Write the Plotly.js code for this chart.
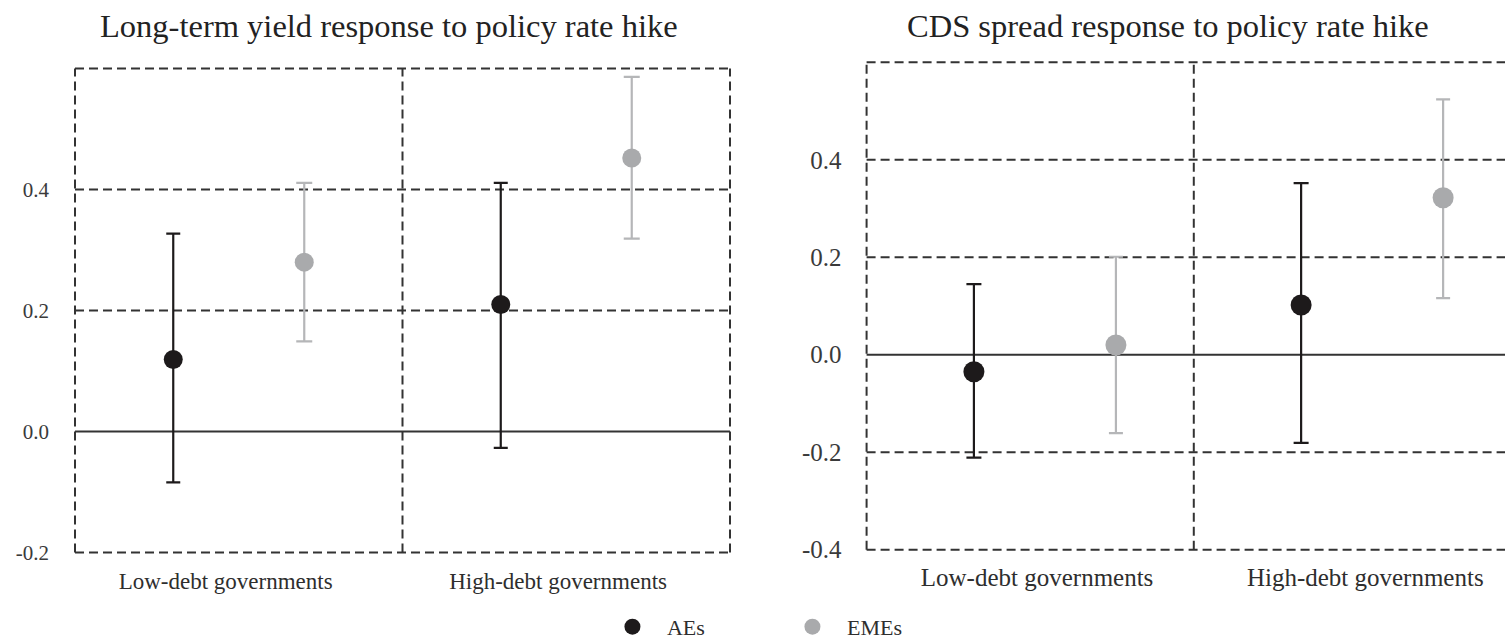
<!DOCTYPE html>
<html><head><meta charset="utf-8">
<script src="https://cdn.plot.ly/plotly-3.0.1.min.js"></script>
<style>html,body{margin:0;padding:0;background:#fff}#chart{width:1505px;height:641px}</style>
</head><body><div id="chart"></div>
<script>
// ---- data ----
const categories = ['Low-debt governments', 'High-debt governments'];
const seriesNames = ['AEs', 'EMEs'];
const panelTitles = ['Long-term yield response to policy rate hike', 'CDS spread response to policy rate hike'];

// Long-term yield response (left panel)
const yieldAEs = [0.119, 0.210];
const yieldAEsLow = [-0.084, -0.027];
const yieldAEsHigh = [0.327, 0.411];
const yieldEMEs = [0.280, 0.452];
const yieldEMEsLow = [0.149, 0.319];
const yieldEMEsHigh = [0.411, 0.586];

// CDS spread response (right panel)
const cdsAEs = [-0.035, 0.102];
const cdsAEsLow = [-0.211, -0.181];
const cdsAEsHigh = [0.145, 0.352];
const cdsEMEs = [0.020, 0.322];
const cdsEMEsLow = [-0.161, 0.116];
const cdsEMEsHigh = [0.201, 0.524];

const yTickValsYield = [-0.2, 0.0, 0.2, 0.4];
const yTickTextYield = ['-0.2', '0.0', '0.2', '0.4'];
const yTickValsCDS = [-0.4, -0.2, 0.0, 0.2, 0.4];
const yTickTextCDS = ['-0.4', '-0.2', '0.0', '0.2', '0.4'];

// ---- styling ----
const FONT = 'Liberation Serif, Times New Roman, serif';
const AE_COLOR = '#1d1a1b';
const EME_COLOR = '#a9aaac';
const EME_ERR = '#b5b6b8';
const GRID = '#333333';

function pointTrace(name, vals, lo, hi, offset, xa, ya, st, showlegend) {
  return {
    type: 'scatter', mode: 'markers', name: name, legendgroup: name, showlegend: showlegend,
    x: vals.map((_, i) => i + offset), y: vals, xaxis: xa, yaxis: ya,
    marker: {color: st.color, size: st.size},
    error_y: {type: 'data', symmetric: false,
      array: hi.map((h, i) => h - vals[i]), arrayminus: vals.map((v, i) => v - lo[i]),
      color: st.err, thickness: 2.2, width: st.cap},
    hoverinfo: 'skip'
  };
}

const traces = [
  pointTrace(seriesNames[0], yieldAEs, yieldAEsLow, yieldAEsHigh, 0.30, 'x', 'y', {color: AE_COLOR, err: AE_COLOR, size: 19, cap: 7}, true),
  pointTrace(seriesNames[1], yieldEMEs, yieldEMEsLow, yieldEMEsHigh, 0.70, 'x', 'y', {color: EME_COLOR, err: EME_ERR, size: 19, cap: 8}, true),
  pointTrace(seriesNames[0], cdsAEs, cdsAEsLow, cdsAEsHigh, 0.328, 'x2', 'y2', {color: AE_COLOR, err: AE_COLOR, size: 21, cap: 7.5}, false),
  pointTrace(seriesNames[1], cdsEMEs, cdsEMEsLow, cdsEMEsHigh, 0.762, 'x2', 'y2', {color: EME_COLOR, err: EME_ERR, size: 21, cap: 7}, false)
];

// dashed frame / grid as shapes in data coordinates
function gridShapes(xr, yr, levels, yBottom, yTop) {
  const s = [];
  levels.forEach(v => s.push({type: 'line', xref: xr, yref: yr, x0: 0, x1: 2, y0: v, y1: v, layer: 'below',
    line: {color: GRID, width: 2, dash: '9px,5px'}}));
  [0, 1, 2].forEach(v => s.push({type: 'line', xref: xr, yref: yr, x0: v, x1: v, y0: yBottom, y1: yTop, layer: 'below',
    line: {color: GRID, width: 2, dash: '9px,5px'}}));
  s.push({type: 'line', xref: xr, yref: yr, x0: 0, x1: 2, y0: 0, y1: 0, layer: 'below',
    line: {color: '#333333', width: 2}});
  return s;
}
const shapes = gridShapes('x', 'y', [-0.2, 0.2, 0.4, 0.6], -0.2, 0.6)
  .concat(gridShapes('x2', 'y2', [-0.4, -0.2, 0.2, 0.4, 0.6], -0.4, 0.6));

const layout = {
  width: 1505, height: 641,
  margin: {l: 0, r: 0, t: 0, b: 0, autoexpand: false},
  paper_bgcolor: '#ffffff', plot_bgcolor: 'rgba(0,0,0,0)',
  font: {family: FONT, color: '#333333'},
  showlegend: true,
  xaxis: {domain: [0.04113, 0.49375], range: [-0.04, 2.04], showgrid: false, zeroline: false, showline: false,
    tickvals: [0.46, 1.475], ticktext: categories, ticks: '', ticklabelstandoff: 3,
    tickfont: {family: FONT, size: 23, color: '#2e2e2e'}, fixedrange: true},
  yaxis: {domain: [0.12371, 0.90733], range: [-0.215, 0.615], showgrid: false, zeroline: false, showline: false,
    tickvals: yTickValsYield, ticktext: yTickTextYield, ticks: '', ticklabelstandoff: 12,
    tickfont: {family: FONT, size: 21, color: '#3a3a3a'}, fixedrange: true},
  xaxis2: {domain: [0.56711, 1], range: [-0.04, 1.9511], anchor: 'y2', showgrid: false, zeroline: false, showline: false,
    tickvals: [0.521, 1.524], ticktext: categories, ticks: '', ticklabelstandoff: 3,
    tickfont: {family: FONT, size: 25, color: '#2e2e2e'}, fixedrange: true},
  yaxis2: {domain: [0.13105, 0.91420], range: [-0.415, 0.615], anchor: 'x2', showgrid: false, zeroline: false, showline: false,
    tickvals: yTickValsCDS, ticktext: yTickTextCDS, ticks: '', ticklabelstandoff: 11,
    tickfont: {family: FONT, size: 25, color: '#3a3a3a'}, fixedrange: true},
  shapes: shapes,
  annotations: [
    {text: panelTitles[0], xref: 'paper', yref: 'paper', x: 389 / 1505, y: 0.9594, xanchor: 'center', yanchor: 'middle',
      showarrow: false, font: {family: FONT, size: 32.5, color: '#222222'}},
    {text: panelTitles[1], xref: 'paper', yref: 'paper', x: 1168 / 1505, y: 0.9594, xanchor: 'center', yanchor: 'middle',
      showarrow: false, font: {family: FONT, size: 32.5, color: '#222222'}}
  ],
  legend: {orientation: 'h', x: 0.3973, xanchor: 'left', y: 0.022, yanchor: 'middle',
    itemwidth: 59, entrywidth: 106, entrywidthmode: 'pixels', font: {family: FONT, size: 22, color: '#2e2e2e'},
    bgcolor: 'rgba(0,0,0,0)'}
};

Plotly.newPlot('chart', traces, layout, {displayModeBar: false, staticPlot: true});
</script>
</body></html>
